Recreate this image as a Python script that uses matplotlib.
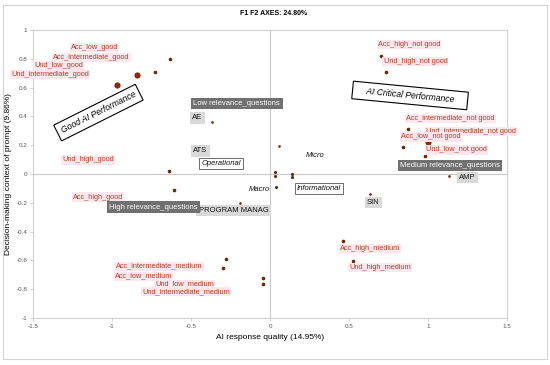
import matplotlib.pyplot as plt
from matplotlib.patches import Rectangle

plt.rcParams['font.family'] = ['Liberation Sans', 'DejaVu Sans']

# modalities (red labels): point position and label position
mod_names = ["Acc_low_good", "Acc_intermediate_good", "Und_low_good",
             "Und_intermediate_good", "Und_high_good", "Acc_high_good",
             "Acc_high_not good", "Und_high_not good", "Acc_intermediate_not good",
             "Und_intermediate_not good", "Acc_low_not good", "Und_low_not good",
             "Acc_intermediate_medium", "Acc_low_medium", "Und_low_medium",
             "Und_intermediate_medium", "Acc_high_medium", "Und_high_medium"]
mod_x = [-0.633, -0.842, -0.726, -0.97, -0.639, -0.608,
         0.70, 0.734, 0.875, 0.998, 0.844, 0.979,
         -0.28, -0.30, -0.046, -0.046, 0.464, 0.523]
mod_y = [0.80, 0.69, 0.71, 0.62, 0.023, -0.11,
         0.82, 0.705, 0.31, 0.22, 0.185, 0.128,
         -0.587, -0.654, -0.72, -0.767, -0.466, -0.605]
mod_lx = [-1.11, -1.13, -1.34, -1.39, -1.15, -1.09,
          0.88, 0.92, 1.14, 1.27, 1.017, 1.18,
          -0.70, -0.80, -0.54, -0.53, 0.633, 0.696]
mod_ly = [0.88, 0.81, 0.755, 0.69, 0.097, -0.16,
          0.90, 0.78, 0.385, 0.297, 0.257, 0.167,
          -0.64, -0.71, -0.765, -0.816, -0.52, -0.65]
big_points = ["Acc_intermediate_good", "Und_intermediate_good", "Und_intermediate_not good"]

# projects (light grey labels)
proj_names = ["AE", "ATS", "PROGRAM MANAG", "AMP", "SIN"]
proj_x = [-0.367, 0.059, -0.19, 1.135, 0.633]
proj_y = [0.364, 0.197, -0.20, -0.012, -0.141]
proj_lx = [-0.46, -0.44, -0.23, 1.25, 0.654]
proj_ly = [0.39, 0.16, -0.255, -0.026, -0.197]

# question relevance (dark grey labels)
rel_names = ["Low relevance_questions", "High relevance_questions", "Medium relevance_questions"]
rel_lx = [-0.21, -0.74, 1.14]
rel_ly = [0.49, -0.23, 0.06]

# decision levels (italic labels)
lev_names = ["Operational", "Micro", "Macro", "Informational"]
lev_x = [0.032, 0.137, 0.038, 0.137]
lev_y = [0.016, 0.0, -0.088, -0.019]
lev_lx = [-0.31, 0.285, -0.07, 0.31]
lev_ly = [0.07, 0.127, -0.11, -0.10]
lev_boxed = ["Operational", "Informational"]
extra_x = [0.032]
extra_y = [-0.012]

fig = plt.figure(figsize=(5.5, 3.65), dpi=100)
ax = fig.add_axes([0.06, 0.1288, 0.862, 0.7892])

fig.patches.append(Rectangle((0.006, 0.017), 0.988, 0.969, transform=fig.transFigure,
                             fill=False, edgecolor="#d4d4d4", linewidth=0.8))

ax.axhline(0, color="#c8c8c8", lw=0.8, zorder=0)
ax.axvline(0, color="#c8c8c8", lw=0.8, zorder=0)

red_box = dict(boxstyle="square,pad=0.15", fc="#fde6ec", ec="none")
for name, x, y, lx, ly in zip(mod_names, mod_x, mod_y, mod_lx, mod_ly):
    big = name in big_points
    ax.scatter(x, y, s=20 if big else 7, color="#8b2a10" if big else "#6b2a0a",
               zorder=3, linewidths=0)
    ax.text(lx, ly, name, fontsize=5.3, color="#b2402a", ha="center", va="center",
            bbox=red_box, zorder=4)

for name, x, y, lx, ly in zip(proj_names, proj_x, proj_y, proj_lx, proj_ly):
    ax.scatter(x, y, s=4, color="#7a3a10", zorder=3, linewidths=0)
    ax.text(lx, ly, name, fontsize=5.5, color="#111111", ha="center", va="center",
            bbox=dict(boxstyle="square,pad=0.3", fc="#d9d9d9", ec="none"), zorder=4)

for name, lx, ly in zip(rel_names, rel_lx, rel_ly):
    ax.text(lx, ly, name, fontsize=5.5, color="white", ha="center", va="center",
            bbox=dict(boxstyle="square,pad=0.3", fc="#707070", ec="none"), zorder=4)

for name, x, y, lx, ly in zip(lev_names, lev_x, lev_y, lev_lx, lev_ly):
    ax.scatter(x, y, s=5, color="#5a2a0a", zorder=3, linewidths=0)
    box = None
    if name in lev_boxed:
        box = dict(boxstyle="square,pad=0.25", fc="white", ec="#333333", lw=0.5)
    ax.text(lx, ly, name, fontsize=5.5, style="italic", color="#111111",
            ha="center", va="center", bbox=box, zorder=4)
ax.scatter(extra_x, extra_y, s=5, color="#5a2a0a", zorder=3, linewidths=0)

# zone annotations
ax.text(-1.086, 0.426, "Good AI Performance", fontsize=6.2, style="italic", rotation=26.6,
        ha="center", va="center", rotation_mode="anchor",
        bbox=dict(boxstyle="square,pad=0.5", fc="white", ec="black", lw=0.8), zorder=5)
ax.text(0.886, 0.545, "    AI Critical Performance    ", fontsize=6.2, style="italic",
        rotation=-5.5, ha="center", va="center", rotation_mode="anchor",
        bbox=dict(boxstyle="square,pad=0.5", fc="white", ec="black", lw=0.8), zorder=5)

ax.set_xlim(-1.5, 1.5)
ax.set_ylim(-1, 1)
ax.set_xticks([-1.5, -1, -0.5, 0, 0.5, 1, 1.5])
ax.set_xticklabels(["-1.5", "-1", "-0.5", "0", "0.5", "1", "1.5"])
ax.set_yticks([-1, -0.8, -0.6, -0.4, -0.2, 0, 0.2, 0.4, 0.6, 0.8, 1])
ax.set_yticklabels(["-1", "-0.8", "-0.6", "-0.4", "-0.2", "0", "0.2", "0.4", "0.6", "0.8", "1"])
ax.tick_params(labelsize=4.5, labelcolor="#555555", color="#bbbbbb", length=2, width=0.5, pad=2)
for s in ax.spines.values():
    s.set_color("#d0d0d0")
    s.set_linewidth(0.8)

ax.set_xlabel("AI response quality (14.95%)", fontsize=6, labelpad=4)
ax.set_ylabel("Decision-making context of prompt (9.86%)", fontsize=6, labelpad=3)
fig.text(0.497, 0.962, "F1 F2 AXES: 24.80%", fontsize=5, fontweight="bold",
         ha="center", va="center")

fig.savefig("out.png", dpi=100)
